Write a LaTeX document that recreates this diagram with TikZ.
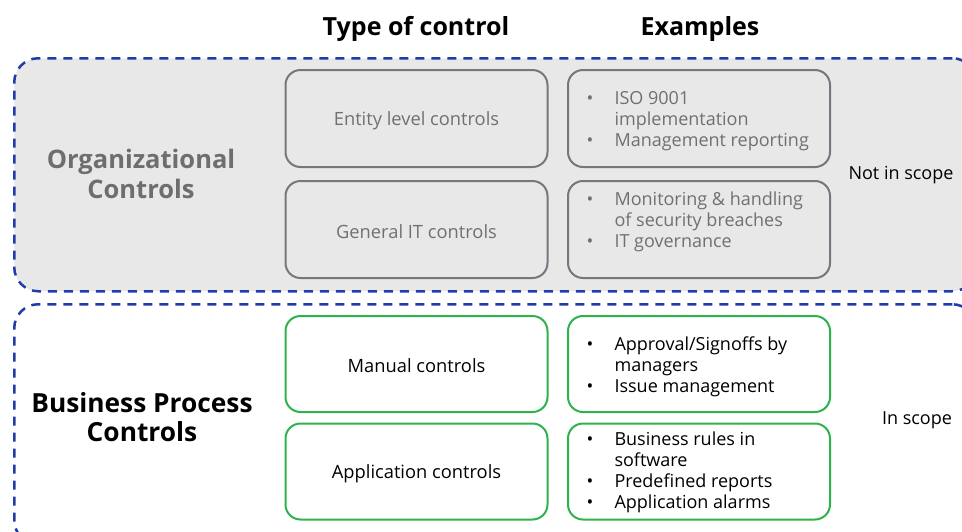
\documentclass[tikz,border=0pt]{standalone}
\usepackage{fontspec}
\setmainfont{Open Sans}
\definecolor{dblue}{HTML}{1F3CAA}
\definecolor{bggrey}{HTML}{E8E8E8}
\definecolor{boxgrey}{HTML}{74777E}
\definecolor{txtgrey}{HTML}{707070}
\definecolor{orggrey}{HTML}{6E6E6E}
\definecolor{ggreen}{HTML}{2DB34A}
\newcommand{\bitem}[1]{\makebox[28pt][l]{\textbullet}#1}
\newcommand{\bcont}[1]{\hspace*{28pt}#1}
\tikzset{
  outerbox/.style={draw=dblue, line width=2.5pt, dash pattern=on 9pt off 7pt, rounded corners=24pt, anchor=north west, inner sep=0pt},
  greybox/.style={draw=boxgrey, line width=2pt, fill=bggrey, rounded corners=15pt, minimum width=262pt, minimum height=97pt, inner sep=0pt},
  greenbox/.style={draw=ggreen, line width=2pt, fill=white, rounded corners=15pt, minimum width=262pt, minimum height=96pt, inner sep=0pt},
  head/.style={font=\fontsize{25}{30}\selectfont\bfseries, text=black},
  side/.style={align=center},
  boxtext/.style={font=\fontsize{18.3}{21}\selectfont},
  listtext/.style={font=\fontsize{18}{21}\selectfont, align=left, anchor=west},
  scope/.style={font=\fontsize{18}{21}\selectfont, text=black}
}
\begin{document}
\begin{tikzpicture}[x=1pt,y=-1pt]
\useasboundingbox (0,0) rectangle (962,531);
\clip (0,0) rectangle (962,531);
% outer regions
\node[outerbox, fill=bggrey, minimum width=962pt, minimum height=233pt] (org) at (13,57) {};
\node[outerbox, fill=white, minimum width=962pt, minimum height=240pt] (bus) at (13,303) {};
% headings
\node[head] (h1) at (416,29) {Type of control};
\node[head] (h2) at (700,29) {Examples};
% side labels
\node[side, text=orggrey, font=\fontsize{25.5}{30}\selectfont\bfseries] (orgl) at (141,174) {Organizational\\Controls};
\node[side, text=black, font=\fontsize{26.3}{28.5}\selectfont\bfseries] (busl) at (142,417) {Business Process\\Controls};
% type boxes
\node[greybox] (ent) at (416.5,118.5) {};
\node[boxtext, text=txtgrey] at ([yshift=-2pt]ent.center) {Entity level controls};
\node[greybox] (git) at (416.5,229.5) {};
\node[boxtext, text=txtgrey] at ([yshift=-2pt]git.center) {General IT controls};
\node[greenbox] (man) at (416.5,364) {};
\node[boxtext, text=black] at ([yshift=-2pt]man.center) {Manual controls};
\node[greenbox] (app) at (416.5,471.5) {};
\node[boxtext, text=black] at ([yshift=-2pt]app.center) {Application controls};
% example boxes
\node[greybox] (ex1) at (699,118.5) {};
\node[listtext, text=txtgrey] at ([xshift=16pt,yshift=-3pt]ex1.west) {\bitem{ISO 9001}\\\bcont{implementation}\\\bitem{Management reporting}};
\node[greybox] (ex2) at (699,229.5) {};
\node[listtext, text=txtgrey] at ([xshift=16pt,yshift=8pt]ex2.west) {\bitem{Monitoring \& handling}\\\bcont{of security breaches}\\\bitem{IT governance}};
\node[greenbox] (ex3) at (699,364) {};
\node[listtext, text=black] at ([xshift=16pt,yshift=-3pt]ex3.west) {\bitem{Approval/Signoffs by}\\\bcont{managers}\\\bitem{Issue management}};
\node[greenbox] (ex4) at (699,471.5) {};
\node[listtext, text=black] at ([xshift=16pt,yshift=-1pt]ex4.west) {\bitem{Business rules in}\\\bcont{software}\\\bitem{Predefined reports}\\\bitem{Application alarms}};
% scope labels
\node[scope] (ns) at (901,175) {Not in scope};
\node[scope] (is) at (917,420) {In scope};
\end{tikzpicture}
\end{document}
